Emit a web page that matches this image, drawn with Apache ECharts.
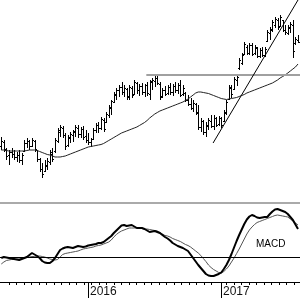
<!DOCTYPE html>
<html><head><meta charset="utf-8">
<script src="https://cdn.jsdelivr.net/npm/echarts@6/dist/echarts.min.js"></script>
<style>html,body{margin:0;padding:0;background:#fff}#c{width:300px;height:300px}</style>
</head><body><div id="c"></div><script>
// weekly price bars
const opens=[25.4,25.8,25.0,24.5,24.8,24.6,24.3,24.5,24.0,24.9,
 25.7,25.9,25.4,25.9,25.0,24.1,23.1,22.9,23.4,23.8,
 24.6,24.9,25.9,26.8,27.2,26.5,25.5,26.2,26.5,26.8,
 27.2,26.6,27.1,26.4,26.0,25.8,26.1,27.0,27.5,27.2,
 28.0,27.8,28.5,29.2,29.8,30.5,31.0,31.3,30.8,31.1,
 30.3,31.2,30.6,31.7,31.0,31.4,30.8,31.5,30.6,31.8,
 31.9,32.2,31.6,30.4,31.0,30.7,31.3,30.8,31.4,31.0,
 31.5,30.6,30.7,30.0,29.6,29.2,29.6,28.8,27.3,27.9,
 26.8,27.4,27.9,27.4,28.2,27.6,28.2,27.9,28.7,30.1,
 31.2,31.1,32.0,33.2,33.7,34.6,35.3,34.7,35.5,34.7,
 35.2,34.4,35.0,34.5,35.9,36.7,37.0,37.5,38.0,37.4,
 38.0,37.0,36.7,37.2,37.5,35.7,36.0];
const highs=[26.3,26.0,25.2,25.0,25.2,25.0,24.8,25.0,24.7,26.0,
 26.2,26.0,26.2,26.0,25.0,24.2,23.7,24.0,24.2,25.0,
 25.2,26.2,27.2,27.5,27.4,26.7,26.5,26.8,27.0,27.5,
 27.5,27.3,27.4,27.0,26.7,26.2,27.2,27.7,27.8,28.3,
 28.2,28.8,29.5,30.0,30.8,31.2,31.5,31.8,31.5,31.2,
 31.5,31.4,32.0,31.8,31.6,31.7,31.6,31.8,32.0,32.2,
 32.4,32.5,31.8,31.2,31.4,31.5,31.7,31.6,31.8,31.7,
 32.0,31.5,30.8,30.5,30.2,30.0,29.7,29.5,28.2,28.0,
 27.8,28.2,28.5,28.5,28.3,28.4,28.3,29.0,30.0,31.5,
 31.5,32.3,32.5,34.2,34.7,35.8,35.5,35.7,35.7,35.5,
 35.3,35.2,35.3,35.3,37.0,37.3,38.0,38.3,38.2,38.5,
 38.0,37.5,37.5,37.8,38.0,36.3,36.5];
const lows=[25.0,24.8,24.0,23.5,24.2,24.0,23.8,23.7,23.5,24.8,
 25.2,25.0,25.3,24.8,23.8,22.8,22.2,22.8,23.0,23.5,
 23.8,24.7,25.7,26.3,26.2,25.0,25.3,25.7,25.8,26.3,
 26.2,26.2,26.0,25.7,25.5,25.3,26.0,26.7,26.7,27.0,
 26.8,27.7,28.2,28.5,29.7,30.0,30.3,30.5,30.3,30.0,
 30.0,30.2,30.5,30.6,30.4,30.5,30.3,30.4,30.0,31.0,
 31.3,31.5,30.0,30.2,30.4,30.5,30.5,30.4,30.7,30.6,
 30.3,30.4,29.8,29.4,29.0,28.8,28.5,27.0,26.8,26.5,
 26.3,27.0,27.2,27.0,27.3,27.4,27.2,27.8,28.5,30.0,
 30.2,31.0,31.4,33.0,33.5,34.5,34.5,34.5,34.4,34.5,
 34.2,34.2,34.3,34.3,35.8,36.0,36.8,37.2,37.0,37.3,
 36.8,36.5,36.5,36.7,34.2,35.5,35.7];
const closes=[25.9,25.1,24.4,24.8,24.6,24.3,24.5,24.0,24.5,25.7,
 25.9,25.4,26.0,25.1,24.1,23.1,22.6,23.5,23.9,24.8,
 24.1,26.0,27.0,27.3,26.5,25.4,26.3,26.6,26.9,27.3,
 26.6,27.1,26.3,26.0,25.8,26.1,27.0,27.5,27.2,28.1,
 27.1,28.6,29.3,29.9,30.6,31.0,31.3,30.8,31.2,30.4,
 31.3,30.5,31.8,31.0,31.4,30.8,31.5,30.7,31.9,32.0,
 32.2,31.7,30.3,31.0,30.6,31.3,30.8,31.4,31.0,31.5,
 30.5,31.2,30.0,29.6,29.2,29.7,28.7,27.3,27.9,26.8,
 27.5,28.0,27.4,28.2,27.5,28.2,27.5,28.8,29.8,31.3,
 30.6,32.1,32.3,34.0,34.5,35.6,34.7,35.5,34.6,35.3,
 34.4,35.0,34.5,35.1,36.8,37.1,37.8,38.1,37.3,38.3,
 37.0,36.8,37.3,37.6,34.9,36.1,35.8];
// moving average
const movingAvg=[25.0,25.0,24.95,24.9,24.9,24.9,24.9,24.9,24.9,24.9,
 24.95,25.0,25.0,25.0,24.95,24.85,24.75,24.65,24.55,24.5,
 24.4,24.3,24.3,24.3,24.35,24.4,24.5,24.6,24.7,24.8,
 24.9,25.0,25.1,25.2,25.3,25.35,25.4,25.45,25.5,25.55,
 25.65,25.8,25.95,26.1,26.25,26.4,26.55,26.7,26.8,26.9,
 27.0,27.1,27.2,27.3,27.45,27.6,27.75,27.95,28.2,28.4,
 28.6,28.75,28.9,29.0,29.1,29.2,29.3,29.4,29.5,29.6,
 29.7,29.8,29.95,30.1,30.3,30.5,30.7,30.8,30.8,30.75,
 30.7,30.65,30.55,30.45,30.35,30.25,30.15,30.1,30.05,30.1,
 30.15,30.2,30.25,30.35,30.45,30.55,30.7,30.8,30.9,31.0,
 31.1,31.2,31.3,31.4,31.5,31.6,31.7,31.85,32.0,32.2,
 32.35,32.5,32.7,32.9,33.1,33.3,33.6];
// MACD panel
const macdLine=[-0.01,0.00,-0.005,-0.01,-0.015,-0.02,-0.025,-0.03,-0.02,-0.01,
 0.00,0.02,0.04,0.025,0.01,-0.01,-0.04,-0.055,-0.06,-0.06,
 -0.04,-0.01,0.03,0.07,0.085,0.095,0.10,0.095,0.09,0.10,
 0.11,0.105,0.10,0.105,0.115,0.12,0.125,0.13,0.14,0.14,
 0.15,0.17,0.19,0.21,0.24,0.265,0.29,0.315,0.32,0.31,
 0.315,0.32,0.305,0.29,0.29,0.29,0.28,0.265,0.25,0.255,
 0.26,0.25,0.24,0.22,0.20,0.185,0.165,0.14,0.125,0.11,
 0.10,0.09,0.075,0.06,0.025,-0.01,-0.045,-0.08,-0.11,-0.14,
 -0.17,-0.185,-0.19,-0.19,-0.18,-0.17,-0.155,-0.12,-0.08,-0.03,
 0.03,0.095,0.16,0.22,0.275,0.33,0.375,0.405,0.42,0.41,
 0.395,0.39,0.395,0.40,0.40,0.43,0.455,0.475,0.48,0.47,
 0.46,0.45,0.43,0.40,0.37,0.325,0.28];
const signalLine=[-0.07,-0.05,-0.035,-0.03,-0.025,-0.025,-0.02,-0.02,-0.015,-0.01,
 -0.005,0.00,0.005,0.005,0.01,0.01,0.005,0.00,-0.01,-0.02,
 -0.025,-0.03,-0.025,0.00,0.025,0.035,0.04,0.045,0.05,0.055,
 0.06,0.07,0.08,0.085,0.09,0.095,0.10,0.11,0.115,0.12,
 0.13,0.14,0.15,0.17,0.20,0.225,0.245,0.26,0.27,0.28,
 0.29,0.29,0.29,0.29,0.285,0.285,0.28,0.28,0.275,0.27,
 0.265,0.26,0.245,0.23,0.215,0.21,0.20,0.185,0.175,0.165,
 0.155,0.14,0.125,0.115,0.10,0.08,0.06,0.04,0.015,-0.015,
 -0.045,-0.08,-0.105,-0.125,-0.14,-0.155,-0.16,-0.145,-0.12,-0.09,
 -0.05,-0.01,0.035,0.08,0.13,0.18,0.23,0.27,0.30,0.325,
 0.345,0.355,0.365,0.375,0.385,0.395,0.405,0.415,0.42,0.415,
 0.41,0.405,0.40,0.38,0.36,0.34,0.32];
// annotations (week index, price)
const resistanceLevel=[57.2,32.55];
const trendStart=[83.3,25.7];
const trendEnd=[116.5,40.0];
// time axis (weeks)
const yearLabels=['2016','2017'];
const yearWeeks=[34.4,86.4];
const weekSpan=117.28;
const minorTicks=[];
for(let w=3.6;w<weekSpan;w+=2.93){ if(yearWeeks.every(y=>Math.abs(y-w)>1.2)) minorTicks.push(+w.toFixed(2)); }

const ohlc=opens.map((o,i)=>[i+0.5,o,highs[i],lows[i],closes[i]]);
const maData=movingAvg.map((v,i)=>[i+0.5,v]);
const macdData=macdLine.map((v,i)=>[i+0.5,v]);
const sigData=signalLine.map((v,i)=>[i+0.5,v]);

const chart=echarts.init(document.getElementById('c'),null,{renderer:'canvas'});
chart.setOption({
  animation:false,
  backgroundColor:'#fff',
  grid:[
    {left:0,right:0,top:0,height:200,outerBoundsMode:'none'},
    {left:0,right:0,top:203,height:79,outerBoundsMode:'none'}
  ],
  xAxis:[
    {gridIndex:0,type:'value',min:0,max:weekSpan,show:false},
    {gridIndex:1,type:'value',min:0,max:weekSpan,position:'bottom',
     axisLine:{show:true,onZero:false,lineStyle:{color:'#000',width:1}},
     axisTick:{show:true,length:3,inside:false,customValues:minorTicks,lineStyle:{color:'#000'}},
     axisLabel:{show:false},splitLine:{show:false}},
    {gridIndex:1,type:'value',min:0,max:weekSpan,position:'bottom',
     axisLine:{show:false,onZero:false},
     axisTick:{show:true,length:16,inside:false,customValues:yearWeeks,lineStyle:{color:'#000'}},
     axisLabel:{show:true,customValues:yearWeeks,align:'left',margin:4,padding:[0,0,0,2],
       fontFamily:'Liberation Sans, Arial',fontSize:12,color:'#111',
       formatter:function(v){const k=yearWeeks.findIndex(y=>Math.abs(y-v)<0.01);return k>=0?yearLabels[k]:'';}},
     splitLine:{show:false}},
    {gridIndex:1,type:'value',min:0,max:weekSpan,position:'top',
     axisLine:{show:true,onZero:false,lineStyle:{color:'#aaaaaa',width:2}},
     axisTick:{show:false},axisLabel:{show:false},splitLine:{show:false}}
  ],
  yAxis:[
    {gridIndex:0,type:'value',min:20,max:40,show:false},
    {gridIndex:1,type:'value',min:-0.25,max:0.54,show:false}
  ],
  graphic:[{type:'text',left:256,top:239,style:{text:'MACD',fill:'#000',font:'10px "Liberation Sans", Arial'}}],
  series:[
    {type:'custom',xAxisIndex:0,yAxisIndex:0,data:ohlc,
     dimensions:['x','open','high','low','close'],
     encode:{x:0,y:[1,2,3,4]},
     renderItem:function(params,api){
       const x=api.value(0);
       const o=api.coord([x,api.value(1)]),h=api.coord([x,api.value(2)]),
             l=api.coord([x,api.value(3)]),c=api.coord([x,api.value(4)]);
       const px=Math.round(h[0])+0.5;
       const st={stroke:'#000',lineWidth:1};
       const oy=Math.round(o[1])+0.5, cy=Math.round(c[1])+0.5;
       return {type:'group',children:[
         {type:'line',shape:{x1:px,y1:Math.round(h[1]),x2:px,y2:Math.round(l[1])},style:st},
         {type:'line',shape:{x1:px-1.5,y1:oy,x2:px,y2:oy},style:st},
         {type:'line',shape:{x1:px,y1:cy,x2:px+1.5,y2:cy},style:st}
       ]};
     }},
    {type:'line',xAxisIndex:0,yAxisIndex:0,data:maData,showSymbol:false,
     lineStyle:{color:'#222',width:1},
     markLine:{silent:true,symbol:'none',label:{show:false},
       data:[
         [{coord:resistanceLevel,lineStyle:{color:'#a0a0a0',width:2,type:'solid'}},{coord:[weekSpan,resistanceLevel[1]]}],
         [{coord:trendStart,lineStyle:{color:'#000',width:1,type:'solid'}},{coord:trendEnd}]
       ]}},
    {type:'line',xAxisIndex:1,yAxisIndex:1,data:sigData,showSymbol:false,
     lineStyle:{color:'#555',width:1},
     markLine:{silent:true,symbol:'none',label:{show:false},
       lineStyle:{color:'#000',width:1,type:'solid'},data:[{yAxis:0}]}},
    {type:'line',xAxisIndex:1,yAxisIndex:1,data:macdData,showSymbol:false,
     lineStyle:{color:'#000',width:2}}
  ]
});
</script></body></html>
